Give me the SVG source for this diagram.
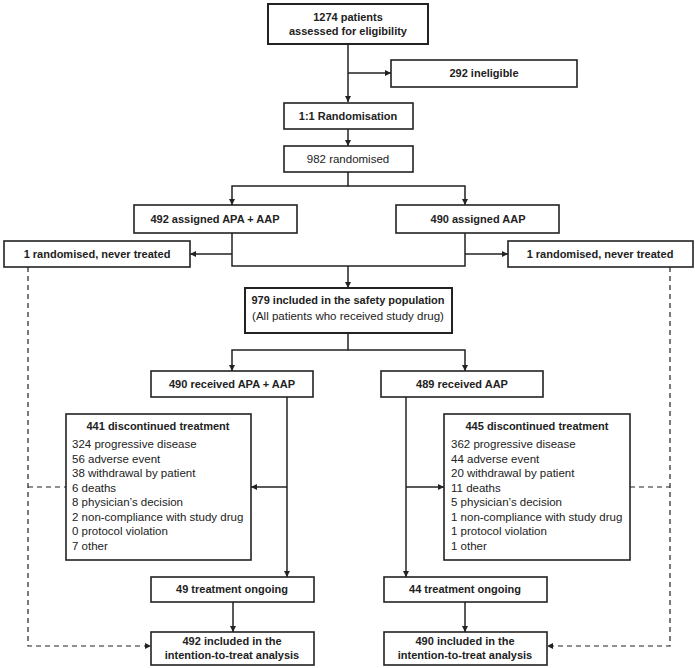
<svg xmlns="http://www.w3.org/2000/svg" width="695" height="668" viewBox="0 0 695 668">
<defs>
<style>
.box{fill:#fff;stroke:#222;stroke-width:1.6}
.thick{stroke-width:2}
.b{font-family:"Liberation Sans",Arial,sans-serif;font-size:11px;font-weight:bold;fill:#222;text-anchor:middle}
.r{font-family:"Liberation Sans",Arial,sans-serif;font-size:11.5px;fill:#222}
.rc{text-anchor:middle}
.ln{fill:none;stroke:#222;stroke-width:1.5}
.ds{fill:none;stroke:#222;stroke-width:1.2;stroke-dasharray:5 4}
</style>
<marker id="ah" viewBox="0 0 8 8" refX="8" refY="4" markerWidth="6" markerHeight="6" orient="auto" markerUnits="userSpaceOnUse">
<path d="M0,0 L8,4 L0,8 z" fill="#222"/>
</marker>
</defs>
<rect width="695" height="668" fill="#fff"/>
<g id="connectors">
<path class="ln" d="M348,44 V102" marker-end="url(#ah)"/>
<path class="ln" d="M348,73 H391" marker-end="url(#ah)"/>
<path class="ln" d="M348,129 V146" marker-end="url(#ah)"/>
<path class="ln" d="M348,172 V186 H232 V205" marker-end="url(#ah)"/>
<path class="ln" d="M348,186 H465 V205" marker-end="url(#ah)"/>
<path class="ln" d="M232,233 V266 H465 V233"/>
<path class="ln" d="M232,254 H190" marker-end="url(#ah)"/>
<path class="ln" d="M465,254 H508" marker-end="url(#ah)"/>
<path class="ln" d="M348,266 V288" marker-end="url(#ah)"/>
<path class="ln" d="M348,333 V350 H232 V371" marker-end="url(#ah)"/>
<path class="ln" d="M348,350 H465 V371" marker-end="url(#ah)"/>
<path class="ln" d="M287,397 V577" marker-end="url(#ah)"/>
<path class="ln" d="M287,487 H251" marker-end="url(#ah)"/>
<path class="ln" d="M406,397 V577" marker-end="url(#ah)"/>
<path class="ln" d="M406,487 H444" marker-end="url(#ah)"/>
<path class="ln" d="M233,602 V632" marker-end="url(#ah)"/>
<path class="ln" d="M465,602 V632" marker-end="url(#ah)"/>
<path class="ds" d="M28,267 V646 H151" marker-end="url(#ah)"/>
<path class="ds" d="M28,487 H66"/>
<path class="ds" d="M670,267 V646 H547" marker-end="url(#ah)"/>
<path class="ds" d="M630,487 H670"/>
</g>
<g id="n-assessed"><rect class="box thick" x="268" y="4" width="160" height="40"/><text class="b" x="348" y="21">1274 patients</text><text class="b" x="348" y="35">assessed for eligibility</text></g>
<g id="n-ineligible"><rect class="box" x="391" y="60" width="186" height="27"/><text class="b" x="484" y="77">292 ineligible</text></g>
<g id="n-randomisation"><rect class="box" x="284" y="103" width="129" height="26"/><text class="b" x="348" y="120">1:1 Randomisation</text></g>
<g id="n-randomised"><rect class="box" x="284" y="146" width="129" height="26"/><text class="r rc" x="348" y="163">982 randomised</text></g>
<g id="n-assigned-apa"><rect class="box" x="134" y="205" width="163" height="28"/><text class="b" x="215" y="223">492 assigned APA + AAP</text></g>
<g id="n-assigned-aap"><rect class="box" x="396" y="205" width="163" height="28"/><text class="b" x="478" y="223">490 assigned AAP</text></g>
<g id="n-never-left"><rect class="box" x="4" y="241" width="186" height="26"/><text class="b" x="97" y="258">1 randomised, never treated</text></g>
<g id="n-never-right"><rect class="box" x="508" y="241" width="185" height="26"/><text class="b" x="600" y="258">1 randomised, never treated</text></g>
<g id="n-safety"><rect class="box thick" x="245" y="288" width="207" height="45"/><text class="b" x="348" y="304">979 included in the safety population</text><text class="r rc" x="348" y="320">(All patients who received study drug)</text></g>
<g id="n-received-apa"><rect class="box" x="151" y="371" width="162" height="26"/><text class="b" x="232" y="388">490 received APA + AAP</text></g>
<g id="n-received-aap"><rect class="box" x="381" y="371" width="162" height="26"/><text class="b" x="462" y="388">489 received AAP</text></g>
<g id="n-disc-left"><rect class="box" x="66" y="414" width="185" height="146"/>
<text class="b" x="158" y="430">441 discontinued treatment</text>
<text class="r" x="72" y="448">324 progressive disease</text>
<text class="r" x="72" y="462.5">56 adverse event</text>
<text class="r" x="72" y="477">38 withdrawal by patient</text>
<text class="r" x="72" y="491.5">6 deaths</text>
<text class="r" x="72" y="506">8 physician’s decision</text>
<text class="r" x="72" y="520.5">2 non-compliance with study drug</text>
<text class="r" x="72" y="535">0 protocol violation</text>
<text class="r" x="72" y="549.5">7 other</text>
</g>
<g id="n-disc-right"><rect class="box" x="444" y="414" width="186" height="146"/>
<text class="b" x="537" y="430">445 discontinued treatment</text>
<text class="r" x="451" y="448">362 progressive disease</text>
<text class="r" x="451" y="462.5">44 adverse event</text>
<text class="r" x="451" y="477">20 withdrawal by patient</text>
<text class="r" x="451" y="491.5">11 deaths</text>
<text class="r" x="451" y="506">5 physician’s decision</text>
<text class="r" x="451" y="520.5">1 non-compliance with study drug</text>
<text class="r" x="451" y="535">1 protocol violation</text>
<text class="r" x="451" y="549.5">1 other</text>
</g>
<g id="n-ongoing-left"><rect class="box" x="151" y="577" width="163" height="25"/><text class="b" x="232" y="593">49 treatment ongoing</text></g>
<g id="n-ongoing-right"><rect class="box" x="384" y="577" width="163" height="25"/><text class="b" x="465" y="593">44 treatment ongoing</text></g>
<g id="n-itt-left"><rect class="box" x="151" y="632" width="163" height="33"/><text class="b" x="232" y="645">492 included in the</text><text class="b" x="232" y="659">intention-to-treat analysis</text></g>
<g id="n-itt-right"><rect class="box" x="384" y="632" width="163" height="33"/><text class="b" x="465" y="645">490 included in the</text><text class="b" x="465" y="659">intention-to-treat analysis</text></g>
</svg>
